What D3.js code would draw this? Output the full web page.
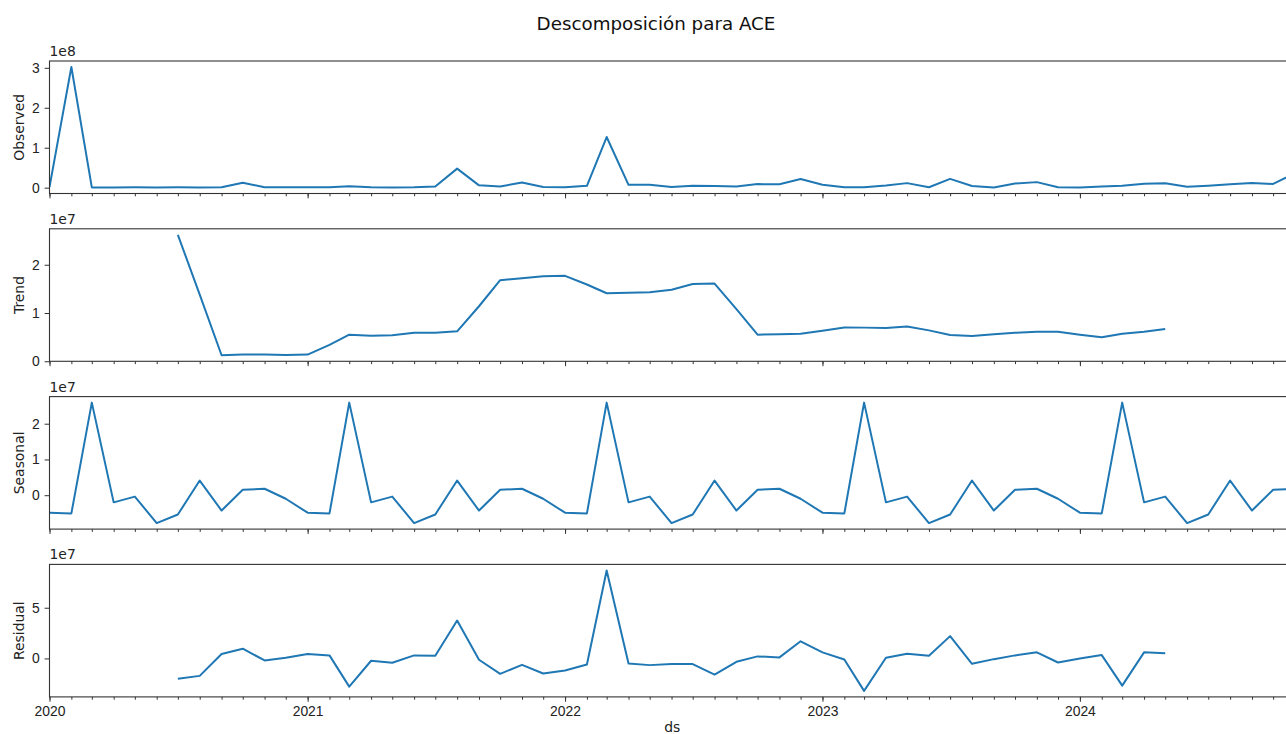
<!DOCTYPE html>
<html>
<meta charset="utf-8">
<style>
body { margin: 0; background: #fff; }
svg { display: block; font-family: "DejaVu Sans", sans-serif; }
.tick text { font-size: 13.9px; fill: #222; }
.tick line { stroke: #333; }
.domain { display: none; }
.spine { fill: none; stroke: #333; stroke-width: 1.1; }
.series { fill: none; stroke: #1f77b4; stroke-width: 2; stroke-linejoin: round; }
</style>
<body>
<svg width="1286" height="734"></svg>
<script src="https://cdn.jsdelivr.net/npm/d3@7"></script>
<script>

var months = [
  "2020-01","2020-02","2020-03","2020-04","2020-05","2020-06","2020-07","2020-08","2020-09","2020-10","2020-11","2020-12",
  "2021-01","2021-02","2021-03","2021-04","2021-05","2021-06","2021-07","2021-08","2021-09","2021-10","2021-11","2021-12",
  "2022-01","2022-02","2022-03","2022-04","2022-05","2022-06","2022-07","2022-08","2022-09","2022-10","2022-11","2022-12",
  "2023-01","2023-02","2023-03","2023-04","2023-05","2023-06","2023-07","2023-08","2023-09","2023-10","2023-11","2023-12",
  "2024-01","2024-02","2024-03","2024-04","2024-05","2024-06","2024-07","2024-08","2024-09","2024-10","2024-11"
];

// values in millions
var observed = [
  1.5, 302, 0.6, 0.5, 0.9, 0.5, 0.8, 0.7, 1.24, 12.5, 1.18, 1.0,
  0.78, 1.3, 3.6, 1.0, 0.7, 1.1, 3.1, 47.7, 5.8, 3.1, 12.7, 1.7,
  0.9, 4.8, 126.8, 7.2, 7.3, 1.4, 5.0, 4.3, 3.2, 9.0, 8.4, 21.6,
  7.4, 0.9, 0.87, 5.6, 11.4, 1.2, 22.0, 4.05, 0.6, 10.4, 13.9, 1.1,
  0.6, 3.2, 4.8, 10.1, 11.3, 2.5, 5.0, 8.5, 12.0, 9.3, 36.0
];

var trend = [
  null, null, null, null, null, null, 26.2, 13.8, 1.24, 1.38, 1.38, 1.31,
  1.38, 3.4, 5.5, 5.3, 5.4, 5.9, 5.9, 6.2, 11.4, 16.8, 17.2, 17.6,
  17.7, 15.9, 14.1, 14.2, 14.3, 14.8, 16.0, 16.1, 10.8, 5.5, 5.6, 5.7,
  6.3, 7.0, 6.97, 6.9, 7.2, 6.4, 5.45, 5.25, 5.6, 5.9, 6.1, 6.1,
  5.5, 4.97, 5.7, 6.1, 6.7, null, null, null, null, null, null
];

var seasonal = [
  -4.9, -5.1, 25.9, -2.0, -0.4, -7.8, -5.4, 4.1, -4.3, 1.5, 1.8, -1.0,
  -4.9, -5.1, 25.9, -2.0, -0.4, -7.8, -5.4, 4.1, -4.3, 1.5, 1.8, -1.0,
  -4.9, -5.1, 25.9, -2.0, -0.4, -7.8, -5.4, 4.1, -4.3, 1.5, 1.8, -1.0,
  -4.9, -5.1, 25.9, -2.0, -0.4, -7.8, -5.4, 4.1, -4.3, 1.5, 1.8, -1.0,
  -4.9, -5.1, 25.9, -2.0, -0.4, -7.8, -5.4, 4.1, -4.3, 1.5, 1.8
];

var residual = [
  null, null, null, null, null, null, -20.0, -17.2, 4.3, 9.6, -2.0, 0.7,
  4.3, 3.0, -27.8, -2.3, -4.3, 3.0, 2.6, 37.4, -1.3, -15.2, -6.3, -14.9,
  -11.9, -6.0, 86.8, -5.0, -6.6, -5.6, -5.6, -15.9, -3.3, 2.0, 1.0, 16.9,
  6.0, -1.0, -32.0, 0.7, 4.6, 2.6, 22.0, -5.3, -0.7, 3.0, 6.0, -4.0,
  0.0, 3.3, -26.8, 6.0, 5.0, null, null, null, null, null, null
];

var panelNames = ["Observed", "Trend", "Seasonal", "Residual"];
var offsetLabels = ["1e8", "1e7", "1e7", "1e7"];
var offsetValues = [100, 10, 10, 10];   // in millions
var yTickValues = [[0, 1, 2, 3], [0, 1, 2], [0, 1, 2], [0, 5]];

var series = [observed, trend, seasonal, residual];

var svg = d3.select("svg");
var parseMonth = d3.utcParse("%Y-%m");
var dates = months.map(parseMonth);

var left = 49.5, right = 1295;
var panelTop = 61, panelH = 132.5, pitch = 167.8;

var x = d3.scaleUtc()
    .domain(d3.extent(dates))
    .range([left, right]);

svg.append("text")
    .attr("x", 656)
    .attr("y", 29.5)
    .attr("text-anchor", "middle")
    .attr("font-size", "18.3px")
    .attr("fill", "#111")
    .text("Descomposición para ACE");

series.forEach(function(vals, i) {
  var top = panelTop + i * pitch,
      bottom = top + panelH;

  var ext = d3.extent(vals.filter(function(v) { return v != null; }));
  var pad = (ext[1] - ext[0]) * 0.05;
  var y = d3.scaleLinear()
      .domain([ext[0] - pad, ext[1] + pad])
      .range([bottom, top]);

  var g = svg.append("g");

  g.append("clipPath")
      .attr("id", "clip" + i)
    .append("rect")
      .attr("x", left).attr("y", top)
      .attr("width", right - left).attr("height", panelH);

  var line = d3.line()
      .defined(function(d) { return d[1] != null; })
      .x(function(d) { return x(d[0]); })
      .y(function(d) { return y(d[1]); });

  g.append("path")
      .datum(dates.map(function(d, j) { return [d, vals[j]]; }))
      .attr("class", "series")
      .attr("clip-path", "url(#clip" + i + ")")
      .attr("d", line);

  g.append("rect")
      .attr("class", "spine")
      .attr("x", left).attr("y", top)
      .attr("width", right - left).attr("height", panelH);

  // y axis
  g.append("g")
      .attr("transform", "translate(" + left + ",0)")
      .call(d3.axisLeft(y)
        .tickValues(yTickValues[i].map(function(t) { return t * offsetValues[i]; }))
        .tickFormat(function(t) { return d3.format("d")(t / offsetValues[i]); })
        .tickSize(4.9)
        .tickPadding(4.9));

  // minor month ticks
  g.append("g")
      .attr("transform", "translate(0," + bottom + ")")
      .call(d3.axisBottom(x)
        .ticks(d3.utcMonth.every(1))
        .tickFormat("")
        .tickSize(2.8));

  // year ticks, labels on last panel only
  g.append("g")
      .attr("transform", "translate(0," + bottom + ")")
      .call(d3.axisBottom(x)
        .ticks(d3.utcYear.every(1))
        .tickFormat(i == 3 ? d3.utcFormat("%Y") : "")
        .tickSize(4.9)
        .tickPadding(4.2));

  g.append("text")
      .attr("x", left)
      .attr("y", top - 5)
      .attr("font-size", "13.9px")
      .attr("fill", "#222")
      .text(offsetLabels[i]);

  g.append("text")
      .attr("transform", "translate(24," + (top + panelH / 2) + ") rotate(-90)")
      .attr("text-anchor", "middle")
      .attr("font-size", "13.9px")
      .attr("fill", "#222")
      .text(panelNames[i]);
});

svg.append("text")
    .attr("x", (left + right) / 2)
    .attr("y", 732)
    .attr("text-anchor", "middle")
    .attr("font-size", "13.9px")
    .attr("fill", "#222")
    .text("ds");

</script>
</body>
</html>
